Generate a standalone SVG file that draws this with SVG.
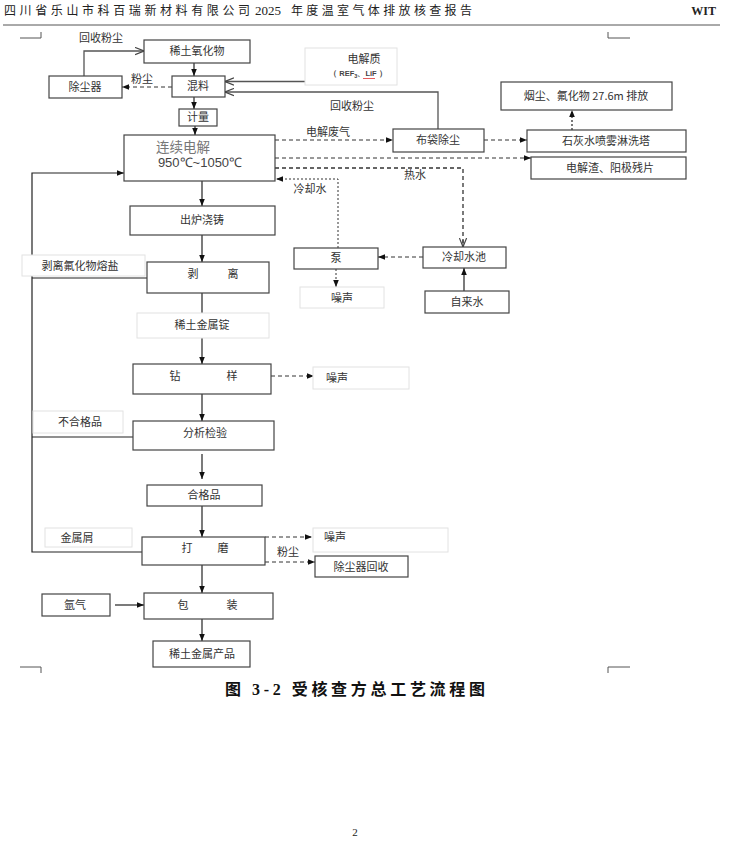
<svg xmlns="http://www.w3.org/2000/svg" width="735" height="842" viewBox="0 0 735 842">
<style>
text{font-family:"Noto Sans CJK SC","Liberation Sans",sans-serif;font-size:11px;fill:#333;text-anchor:middle}
.box{fill:#fff;stroke:#444;stroke-width:1.2}
.lbl{fill:#fff;stroke:#e2e2e2;stroke-width:1}
.ln{fill:none;stroke:#222;stroke-width:1.2}
.gl{fill:none;stroke:#555;stroke-width:1.3}
.ds{fill:none;stroke:#333;stroke-width:1;stroke-dasharray:4,3}
.dt{fill:none;stroke:#333;stroke-width:1.3;stroke-dasharray:2,2}
.mk{fill:none;stroke:#555;stroke-width:1}
.l{text-anchor:start}
.hd{font-size:12px;fill:#222}
</style>
<defs>
<marker id="a" viewBox="0 0 10 10" refX="10" refY="5" markerWidth="7" markerHeight="7" orient="auto" markerUnits="userSpaceOnUse"><path d="M0,1 L10,5 L0,9 z" fill="#111"/></marker>
<marker id="o" viewBox="0 0 10 10" refX="10" refY="5" markerWidth="9" markerHeight="9" orient="auto" markerUnits="userSpaceOnUse"><path d="M0,1 L10,5 L0,9" fill="none" stroke="#444" stroke-width="1.3"/></marker>
</defs>
<rect width="735" height="842" fill="#fff"/>
<!-- header -->
<text x="4" y="15" class="l hd" textLength="246" lengthAdjust="spacing">四川省乐山市科百瑞新材料有限公司</text>
<text x="255" y="15" class="l hd" style="font-family:'Liberation Serif',serif;font-size:13px">2025</text>
<text x="291" y="15" class="l hd" textLength="181" lengthAdjust="spacing">年度温室气体排放核查报告</text>
<text x="716" y="15" class="hd" style="font-family:'Liberation Serif',serif;font-weight:bold;text-anchor:end">WIT</text>
<line x1="3" y1="25" x2="720" y2="25" stroke="#555" stroke-width="1"/>
<!-- corner marks -->
<path class="mk" d="M20,38 H41 V32 M608,32 V38 H630 M20,667 H41 V673 M630,667 H608 V673"/>

<g id="connectors">
<line class="ln" x1="194" y1="63" x2="194" y2="76" marker-end="url(#a)"/>
<line class="ln" x1="194" y1="97" x2="194" y2="109" marker-end="url(#a)"/>
<line class="ln" x1="195" y1="126" x2="195" y2="135" marker-end="url(#a)"/>
<polyline class="gl" points="84,76 84,51 144,51" marker-end="url(#o)"/>
<line class="ds" x1="172" y1="87" x2="122" y2="87" marker-end="url(#a)"/>
<line class="gl" x1="307" y1="81.5" x2="225" y2="81.5" marker-end="url(#o)"/>
<polyline class="gl" points="438,129 438,92 225,92" marker-end="url(#o)"/>
<line class="ds" x1="275" y1="140" x2="393" y2="140" marker-end="url(#a)"/>
<line class="ds" x1="484" y1="140" x2="527" y2="140" marker-end="url(#a)"/>
<line class="dt" x1="572" y1="130" x2="572" y2="110" marker-end="url(#a)"/>
<line class="ds" x1="275" y1="158" x2="531" y2="158" marker-end="url(#a)"/>
<polyline class="ds" points="275,168 463,168 463,247" style="stroke-width:1.3"/>
<line x1="463" y1="240" x2="463" y2="247" stroke="#333" marker-end="url(#o)"/>
<polyline class="dt" points="338,248 338,179 276,179" style="stroke-width:1" marker-end="url(#a)"/>
<line class="ds" x1="423" y1="257" x2="378" y2="257" marker-end="url(#a)"/>
<line class="ln" x1="464" y1="291" x2="464" y2="268" marker-end="url(#a)"/>
<line class="dt" x1="336" y1="269" x2="336" y2="287" style="stroke-width:1" marker-end="url(#a)"/>
<line class="ln" x1="202" y1="181" x2="202" y2="206" marker-end="url(#a)"/>
<line class="ln" x1="202" y1="235" x2="202" y2="262" marker-end="url(#a)"/>
<line class="ln" x1="202" y1="293" x2="202" y2="313"/>
<line class="ln" x1="202" y1="338" x2="202" y2="364" marker-end="url(#a)"/>
<line class="ds" x1="271" y1="376" x2="314" y2="376" marker-end="url(#a)"/>
<line class="ln" x1="202" y1="394" x2="202" y2="421" marker-end="url(#a)"/>
<line class="ln" x1="202" y1="454" x2="202" y2="479" marker-end="url(#a)"/>
<line class="ln" x1="202" y1="506" x2="202" y2="537" marker-end="url(#a)"/>
<line class="ds" x1="265" y1="537" x2="312" y2="537" marker-end="url(#a)"/>
<line class="ds" x1="265" y1="562" x2="315" y2="562" marker-end="url(#a)"/>
<line class="ln" x1="202" y1="565" x2="202" y2="593" marker-end="url(#a)"/>
<line class="ln" x1="115" y1="605" x2="144" y2="605" marker-end="url(#a)"/>
<line class="ln" x1="202" y1="619" x2="202" y2="641" marker-end="url(#a)"/>
<polyline class="ln" points="142,552 32,552 32,173 124,173" marker-end="url(#a)"/>
<line class="ln" x1="147" y1="278" x2="32" y2="278"/>
<line class="ln" x1="133" y1="437" x2="32" y2="437"/>
</g>

<g id="n_oxide"><rect class="box" x="144" y="40" width="106" height="23"/><text x="197" y="55">稀土氧化物</text></g>
<g id="n_dust"><rect class="box" x="49" y="76" width="73" height="22"/><text x="85" y="91">除尘器</text></g>
<g id="n_mix"><rect class="box" x="172" y="76" width="53" height="21"/><text x="198" y="90">混料</text></g>
<g id="n_meter"><rect class="box" x="179" y="109" width="38" height="17"/><text x="198" y="121">计量</text></g>
<g id="n_electrolyte"><rect class="lbl" x="305" y="48" width="92" height="37"/><text x="364" y="63">电解质</text><text x="358" y="76" style="font-family:'Liberation Sans',sans-serif;font-size:7.5px;font-weight:bold;fill:#444">（ REF<tspan style="font-size:5.5px" dy="2">3</tspan><tspan dy="-2">、LiF ）</tspan></text><line x1="363" y1="78.5" x2="375" y2="78.5" stroke="#d33" stroke-width="0.8"/></g>
<g id="n_bag"><rect class="box" x="393" y="129" width="91" height="23"/><text x="438" y="144">布袋除尘</text></g>
<g id="n_tower"><rect class="box" x="527" y="130" width="159" height="22"/><text x="606" y="145">石灰水喷雾淋洗塔</text></g>
<g id="n_emit"><rect class="box" x="501" y="82" width="171" height="28"/><text x="586" y="100">烟尘、氟化物 27.6m 排放</text></g>
<g id="n_slag"><rect class="box" x="531" y="157" width="155" height="22"/><text x="610" y="172">电解渣、阳极残片</text></g>
<g id="n_elec"><rect class="box" x="124" y="135" width="151" height="46"/><text x="183" y="152" style="font-size:13.5px;fill:#777">连续电解</text><text x="200" y="167" style="font-family:'Liberation Sans',sans-serif;font-size:13px;fill:#444">950℃~1050℃</text></g>
<g id="n_pump"><rect class="box" x="294" y="248" width="84" height="21"/><text x="336" y="262">泵</text></g>
<g id="n_pool"><rect class="box" x="423" y="247" width="83" height="21"/><text x="464" y="261">冷却水池</text></g>
<g id="n_tap"><rect class="box" x="425" y="291" width="84" height="22"/><text x="467" y="306">自来水</text></g>
<g id="n_noise1"><rect class="lbl" x="300" y="287" width="84" height="21"/><text x="342" y="302">噪声</text></g>
<g id="n_cast"><rect class="box" x="130" y="206" width="145" height="29"/><text x="202" y="224">出炉浇铸</text></g>
<g id="n_salt"><rect class="lbl" x="22" y="255" width="123" height="21"/><text x="80" y="270">剥离氟化物熔盐</text></g>
<g id="n_strip"><rect class="box" x="147" y="262" width="122" height="31"/><text x="193" y="278">剥</text><text x="233" y="278">离</text></g>
<g id="n_ingot"><rect class="lbl" x="137" y="313" width="132" height="25"/><text x="202" y="329">稀土金属锭</text></g>
<g id="n_drill"><rect class="box" x="133" y="364" width="138" height="30"/><text x="175" y="380">钻</text><text x="232" y="380">样</text></g>
<g id="n_noise2"><rect class="lbl" x="313" y="367" width="96" height="22"/><text x="337" y="382">噪声</text></g>
<g id="n_test"><rect class="box" x="133" y="421" width="141" height="29"/><text x="205" y="437">分析检验</text></g>
<g id="n_reject"><rect class="lbl" x="33" y="411" width="90" height="22"/><text x="80" y="426">不合格品</text></g>
<g id="n_pass"><rect class="box" x="147" y="485" width="115" height="21"/><text x="204" y="499">合格品</text></g>
<g id="n_grind"><rect class="box" x="142" y="537" width="123" height="28"/><text x="187" y="552">打</text><text x="223" y="552">磨</text></g>
<g id="n_scrap"><rect class="lbl" x="45" y="528" width="87" height="19"/><text x="77" y="542">金属屑</text></g>
<g id="n_noise3"><rect class="lbl" x="313" y="528" width="135" height="24"/><text x="335" y="541">噪声</text></g>
<g id="n_recov"><rect class="box" x="315" y="556" width="93" height="21"/><text x="361" y="571">除尘器回收</text></g>
<g id="n_argon"><rect class="box" x="42" y="594" width="68" height="22"/><text x="75" y="609">氩气</text></g>
<g id="n_pack"><rect class="box" x="144" y="593" width="129" height="26"/><text x="183" y="609">包</text><text x="232" y="609">装</text></g>
<g id="n_product"><rect class="box" x="153" y="641" width="97" height="26"/><text x="202" y="658">稀土金属产品</text></g>

<!-- connector labels -->
<text x="101" y="42">回收粉尘</text>
<text x="142" y="83">粉尘</text>
<text x="352" y="110">回收粉尘</text>
<text x="328" y="136">电解废气</text>
<text x="415" y="179">热水</text>
<text x="310" y="193">冷却水</text>
<text x="288" y="556">粉尘</text>

<text x="355" y="695" style="font-size:16px;font-weight:bold;fill:#111" textLength="260" lengthAdjust="spacing">图 <tspan style="font-family:'Liberation Serif',serif">3-2</tspan> 受核查方总工艺流程图</text>
<text x="355" y="836" style="font-family:'Liberation Serif',serif;fill:#222">2</text>
</svg>
